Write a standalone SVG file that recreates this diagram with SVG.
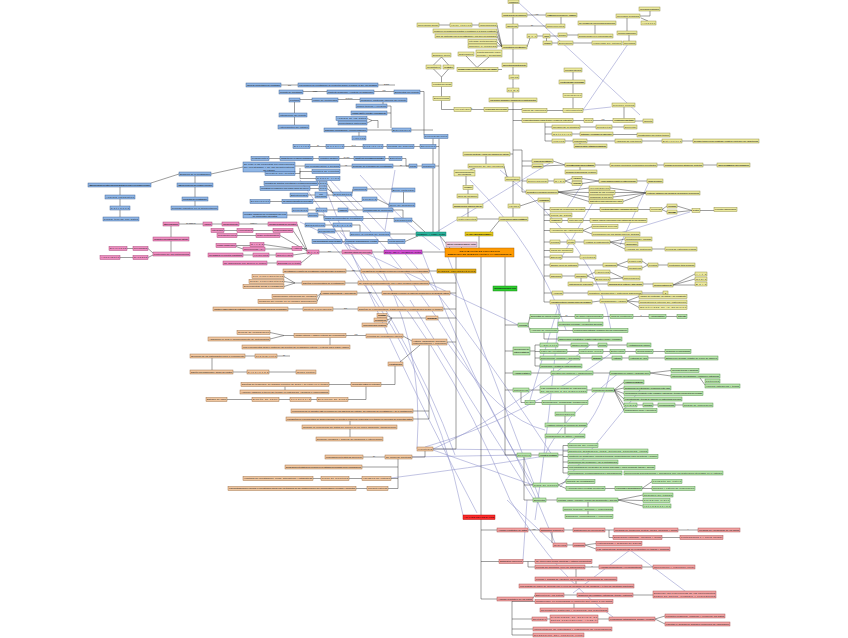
<svg xmlns="http://www.w3.org/2000/svg" width="848" height="638" viewBox="0 0 848 638">
<style>
.n rect{stroke-width:.45}
.n text{font-family:"Liberation Sans",Arial,sans-serif;font-size:2.4px;text-anchor:middle;fill:#111}
.b rect{fill:#8fb6e6;stroke:#3b5e92}
.y rect{fill:#ecea9e;stroke:#8c8740}
.o rect{fill:#f1c7a0;stroke:#9a6a42}
.g rect{fill:#b8e4ab;stroke:#4d8a42}
.r rect{fill:#f1a2a2;stroke:#a44c4c}
.p rect{fill:#ef8fc2;stroke:#a23d72}
.e{stroke:#3a3a3a;stroke-width:.5;fill:none}
.x{stroke:#8f93cc;stroke-width:.65;fill:none;opacity:.85}
.lw{font-family:"Liberation Sans",Arial,sans-serif;font-size:1.9px;text-anchor:middle;fill:#222}
</style>
<rect width="848" height="638" fill="#fff"/>
<g id="connectors">
<path class="x" d="M518,2L640,115 M583,110L628,44 M323,182Q380,330 477,513 M330,190Q440,290 537,500 M350,195Q430,270 552,455 M300,222Q400,270 518,325 M440,236L540,500 M422,252Q470,380 533,485 M430,236L550,163 M433,449Q500,450 568,450 M433,450Q490,470 533,485 M412,457L517,455 M391,478Q470,468 539,457 M470,180Q540,250 566,330 M500,170Q600,250 611,330 M320,230Q430,350 463,515 M410,300Q470,400 533,498 M447,342Q500,420 545,430 M560,300Q550,420 535,520 M590,345Q500,420 433,449 M613,352Q520,420 425,447 M620,372Q560,420 545,455 M527,500L523,560 M507,500L553,543 M537,500L555,543 M630,550L693,597 M630,550L573,593 M510,500Q560,580 613,617 M583,183L567,208 M620,233L690,212 M610,372Q600,420 568,444 M330,180L358,210 M360,175Q400,220 440,250 M395,170L385,230 M583,110L611,107 M300,180Q410,330 455,455 M340,232Q440,330 510,500 M372,252Q425,340 417,449 M640,390Q600,440 560,487 M560,300L530,400 M600,190L560,260 M650,180L620,245"/>
<path class="e" d="M281,85H298 M378,85H395 M303,91.5H327 M374,91.5H394 M420,91.5H424V134.5 M433,138.5V232 M439,138.5V232 M300,99.5H312 M338,99.5H360 M294.5,101.5V113 M294.5,117V125 M383,102V104 M387,106H391V128 M387,113H391 M367,118.5L372,120.5 M367,123L372,120.5H378V128 M367,130H392 M359,136V132 M411,130H433 M310,146.5H326 M344,146.5H363 M383,146.5H387 M414,146.5H420 M436,146.5H439 M269,158.5H280 M313,158.5H319 M339,158.5H354 M385,158.5H389 M402,158.5H406V166H409 M295,166H305 M340,166H352 M393,166H409 M417,166H422 M435,166H439 M243,167L211,174 M295,173.5H300V168 M312,171.5H300 M316,178.5H300V171 M318,183.5H319 M310,188.5H319 M327,183.5L333,193 M327,188.5L333,193 M308,195H315 M327,195H333 M352,193.5L353,189 M367,189H392 M403.5,192V203 M270,201.5H282 M313,201.5H362 M377,199L389,205 M308,210H316 M327,210H338 M348,210H363 M393,210H403V218 M287,215H308 M318,215H324V218.5 M363,218.5H394 M325,225H333 M352,225H360V232 M335,231H350 M390,234H416 M342,241.5H345 M378,241.5H388 M405,241.5L418,236 M412,220L425,232 M179,174L151,183 M195,176V183 M120,187V195 M120,199V206 M120,210V217 M195,187V197 M195,201V206"/>
<path class="e" d="M179,224H203 M212,224H222 M239,224H268 M297,224L307,250 M171,226V237 M171,241V252 M127,248.5H133 M148,248.5L153,253 M120,257.5H133 M148,257.5L153,255 M224,230.5H237 M253,230.5H273 M293,230.5L307,251 M237,235.5H256 M280,235.5L307,251 M236,245.5H250 M236,246.5L243,249 M264,244.5L292,248.5 M265,249H292 M302,248.5H307 M243,255H253 M269,255H276 M293,255L307,253 M267,263H277 M301,263L312,254 M319,252H342 M372,252H384 M422,252H445 M461.5,247V248 M440,236L450,248 M479,236V248"/>
<path class="e" d="M456,257V269 M456,273V449 M433,449H456 M346,271H361 M429,271H437 M284,276.5L295,283 M284,281.5L295,283 M284,286.5L295,283H302 M345,283H358 M429,283H456 M317,296.5L321,293 M317,301.5L321,293 M357,293H382 M450,293H456 M288,309H303 M333,309H358 M443,309H456 M387,315.5L392,318 M387,320L392,318 M387,325L392,318H426 M438,318H456 M270,332.5L284,335.5 M270,339L284,335.5H294 M346,335.5H366 M403,336L412,341 M447,342H456 M330,337.5V345 M245,356H255 M212,358V370 M233,372H247 M269,372H296 M277,356H290 M420,345L400,362 M395,366V384.5H381 M329,384.5H351 M285,386.5V390 M366,386.5V399.5H348 M227,399.5H252 M279,399.5H290 M311,399.5H317 M429,345V419 M413,411H429 M413,419H429 M350,421V425 M350,429V437 M425,451V457H412 M363,457H385 M398,459V488.5 M362,467H398 M313,478.5H321 M349,478.5H362 M391,478.5H398 M356,488.5H367 M388,488.5H398"/>
<path class="e" d="M481,257V515 M505,257V286 M505,291V455 M505,325H518 M528,325L530,316.5 M528,325L530,330.5 M560,316.5H575 M603,316.5H610 M633,316.5H649 M666,316.5H677 M589,318.5V322 M558,330.5H573 M544,332.5V339H558 M505,351H513 M530,351H535 M535,345V366 M535,345H540 M535,351.5H540 M535,358H540 M535,366H540 M558,345H571 M588,345H598 M607,345H627 M567,351.5H579 M603,351.5H610 M625,351.5H636 M653,351.5H665 M580,358H592 M602,358H612 M622,358H629 M648,358H665 M505,373H513 M531,373H551 M593,373H610 M650,373L671,370.5 M650,373L671,376 M700,378L705,385 M505,390H513 M529,390H540 M587,390H592 M614,390L624,382 M614,390L624,388 M614,390L624,393.5 M614,390L624,399 M614,390L624,405 M614,390L624,410.5 M637,405H643 M653,405H658 M675,405H683 M521,392V402.5H525 M535,402.5H542 M565,404.5V412 M565,416V423 M565,427V434 M505,455H517 M531,455H539 M558,455H563 M563,445.5V473 M563,445.5H568 M563,451H568 M563,456.5H568 M563,462H568 M563,467.5H568 M563,473H568 M524,457V500 M524,485H533 M524,500H533 M558,485L566,481.5 M558,485L566,488.5 M605,488.5H615 M642,488.5L652,481.5 M642,488.5H652 M546,500H557 M618,500L643,495 M618,500L643,500.5 M618,500L643,506 M588,502V507 M588,511V514.5"/>
<path class="e" d="M481,519V599 M481,530H497 M481,561.5H499 M481,599H497 M528,530H540 M564,530H573 M605,530H614 M678,530H698 M609,530V537.5H613 M662,537.5H680 M552,532V543 M567,545H573 M585,545L596,543.5 M585,545L596,549 M523,561.5H535 M528,561.5V567H535 M585,567H599 M642,567H653 M576,569V577 M576,581V584 M533,598L535,595 M564,595H577 M633,595H653 M512,601V635 M512,601.5H535 M512,619H532 M512,629H533 M512,635H533 M574,603.5V608 M547,619H550 M598,619H609 M655,619L665,616 M655,619L665,624"/>
<path class="e" d="M513,3.5V13 M513,17V24 M513,28V45 M513,49V63 M513,67V75 M513,79V88 M513,92V98 M513,102V217 M513,120.5H522 M510,154H513 M513,150H522V192 M522,161H532 M522,166H532 M522,181H527 M522,192H526 M499,221L490,232 M527,15H546 M518,26H546 M561,17V24 M439,25H450 M472,25H479 M497,25L502,47 M497,31L502,47 M497,36L502,47 M497,42L502,47 M497,46H502 M527,47L530,38 M537,36H543 M550,36H558 M546.5,38V41 M552,43H558 M567,35H578 M573,43H592 M595,34V25 M629,41V35 M627,31V18 M640,16H650V11 M641,18L648,21 M441.5,57L433.5,65 M441.5,57L448.5,65 M433.5,69L441.5,77 M448.5,69L441.5,77V82.5 M441.5,86.5V96.5 M441.5,100.5V109.5H454 M471,109.5H484 M508,109.5H522 M547,110.5H563 M466,56L477,67.5 M489,57L477,67.5 M498,69.5H502 M573,108.5V97.5 M573,93.5V84 M573,80V72 M573,120.5H584 M593,120.5H613 M624,118.5V107 M635,121H643 M545,122.5V141 M545,127H552 M545,134H552 M545,141H552 M580,127H596 M612,127H624 M572,134H580 M613,134.5H637 M565,141H573 M580,143V144 M587,141H615 M642,141H662 M682,141H693 M486,156V164 M504,166L507,177 M466,176V185.5 M475,168L470,170 M468,189.5V194 M468,198V204 M468,208V217 M477,219H499 M520,206L538,200 M543,166L565,165 M553,161L565,165 M595,165H610 M657,165H664 M703,165H717 M580,167V170 M548,181H554 M565,181L572,178.5 M565,181L572,183.5 M582,178.5L599,181 M582,183.5L599,181 M637,181H647 M558,192L589,188 M558,192L589,192.5 M558,192L589,197 M558,192L589,201.5 M610,188L646,193 M615,192.5H646 M613,197L646,193 M623,201.5L646,193 M544,202V302 M544,209.5H550 M544,215H550 M544,220.5H550 M544,230.5H550 M544,242H550 M544,250.5H550 M544,257H550 M544,265H550 M544,276H550 M544,293H552 M544,302H550 M585,209.5H600 M638,209.5H650 M662,209.5L667,206 M662,209.5L667,212 M677,206L692,210.5 M677,212L692,210.5 M700,210.5H714 M562,220.5H568 M583,220.5H590 M583,230.5L592,226.5 M583,230.5L592,234 M560,242H567 M575,242H584 M610,242L625,239 M610,242L625,244 M610,242L625,249 M652,249H665 M562,257H580 M578,265H603 M617,265L628,261 M617,265L628,268 M642,261L648,265 M642,268L648,265 M658,265H668 M562,276H575 M587,276L595,272 M587,276L595,279 M610,272L623,278 M610,279L623,278 M673,285L695,274 M673,285L695,279 M673,285H695 M581,278V282 M593,284H608 M643,284H653 M563,293H588 M642,293H663 M592,302L600,301 M627,301L639,296.5 M627,301L639,302 M627,301L639,307.5"/>
<text class="lw" x="289.5" y="85.6">son</text><text class="lw" x="386.5" y="84.6">según</text><text class="lw" x="315" y="92.1">como</text><text class="lw" x="384" y="91.1">con</text><text class="lw" x="349" y="99.1">contiene</text><text class="lw" x="318" y="146.1">de</text><text class="lw" x="353.5" y="146.1">es la</text><text class="lw" x="346.5" y="158.1">se usa</text><text class="lw" x="346" y="165.6">es</text><text class="lw" x="401" y="165.6">de</text><text class="lw" x="191" y="223.6">se basa en</text><text class="lw" x="253.5" y="223.6">como el</text><text class="lw" x="329.5" y="251.6">son</text><text class="lw" x="353.5" y="270.6">que</text><text class="lw" x="370" y="292.6">son</text><text class="lw" x="345.5" y="308.6">son</text><text class="lw" x="356" y="335.1">con</text><text class="lw" x="374" y="456.6">se</text><text class="lw" x="566.5" y="316.1">se</text><text class="lw" x="641" y="316.1">o</text><text class="lw" x="534" y="529.6">con</text><text class="lw" x="688" y="529.6">y</text><text class="lw" x="592" y="566.6">o</text><text class="lw" x="536.5" y="14.6">y su</text><text class="lw" x="532" y="25.6">de</text><text class="lw" x="603" y="120.1">con</text><text class="lw" x="468" y="109.1">a partir de</text><text class="lw" x="577" y="372.6">para</text><text class="lw" x="284" y="355.6">de</text><text class="lw" x="594" y="488.1">y</text>
</g>
<g id="n_main" class="n"><rect x="445" y="248" width="69" height="9" fill="#ff9a00" stroke="#a05a00"/><text x="479.5" y="251.9" textLength="40" font-weight="bold">REALIZACIÓN DE PROYECTOS</text><text x="479.5" y="255.4" textLength="64" font-weight="bold">SEMINARIO DE INVESTIGACIÓN II: LA UNIVERSIDAD</text></g>
<g id="n_pg" class="n"><rect x="446" y="242" width="31" height="5" fill="#e9c9dc" stroke="#8a6a7a"/><text x="461.5" y="245.3" textLength="29">SEMINARIO DE INVESTIGACIÓN</text></g>
<g id="n_teal" class="n"><rect x="416" y="232" width="30" height="4" fill="#29b39c" stroke="#157060"/><text x="431" y="234.85" textLength="28">MUESTRA Y POBLACIÓN</text></g>
<g id="n_gy" class="n"><rect x="465" y="232" width="28" height="4" fill="#e8cc1c" stroke="#8a7410"/><text x="479" y="234.85" textLength="26">PLANTEAMIENTO DEL PROBLEMA</text></g>
<g id="n_mag" class="n"><rect x="384" y="250" width="38" height="4" fill="#d34fd3" stroke="#7a1f7a"/><text x="403" y="252.85" textLength="36">ÉTICA EN LA INVESTIGACIÓN</text></g>
<g id="n_go" class="n"><rect x="437" y="269" width="39" height="4" fill="#e2ab14" stroke="#7d5e08"/><text x="456.5" y="271.85" textLength="37">DISEÑO METODOLÓGICO</text></g>
<g id="n_gr" class="n"><rect x="493" y="286" width="24" height="5" fill="#2ecc2e" stroke="#178017"/><text x="505" y="289.3" textLength="22">RECOLECCIÓN DE DATOS</text></g>
<g id="n_rr" class="n"><rect x="463" y="515" width="32" height="4.5" fill="#ff2a2a" stroke="#a00000"/><text x="479" y="518.1" textLength="30">ANÁLISIS DE LOS DATOS</text></g>
<g id="b1" class="n b"><rect x="246" y="83" width="35" height="4"/><text x="263.5" y="85.85" textLength="33">Tipos de presentación de resultados</text></g>
<g id="b2" class="n b"><rect x="298" y="83" width="80" height="4"/><text x="338" y="85.85" textLength="78">Los informes de investigación se presentan según el público al que van dirigidos</text></g>
<g id="b3" class="n b"><rect x="279" y="90" width="24" height="4"/><text x="291" y="92.85" textLength="22">Reporte de resultados</text></g>
<g id="b4" class="n b"><rect x="327" y="90" width="47" height="4"/><text x="350.5" y="92.85" textLength="45">Contexto académico y contexto no académico</text></g>
<g id="b5" class="n b"><rect x="394" y="90" width="26" height="4"/><text x="407" y="92.85" textLength="24">Elementos del reporte</text></g>
<g id="b6" class="n b"><rect x="289" y="98" width="11" height="4"/><text x="294.5" y="100.85" textLength="9">Portada</text></g>
<g id="b7" class="n b"><rect x="312" y="98" width="26" height="4"/><text x="325" y="100.85" textLength="24">Índice de contenidos</text></g>
<g id="b8" class="n b"><rect x="360" y="98" width="47" height="4"/><text x="383.5" y="100.85" textLength="45">Resumen: contenido esencial del reporte</text></g>
<g id="b9" class="n b"><rect x="279" y="113" width="28" height="4"/><text x="293" y="115.85" textLength="26">Introducción del reporte</text></g>
<g id="b10" class="n b"><rect x="278" y="125" width="31" height="4"/><text x="293.5" y="127.85" textLength="29">Antecedentes del estudio</text></g>
<g id="b11" class="n b"><rect x="356" y="104" width="31" height="4"/><text x="371.5" y="106.85" textLength="29">Marco teórico y revisión</text></g>
<g id="b12" class="n b"><rect x="351" y="111" width="36" height="4"/><text x="369" y="113.85" textLength="34">Método: diseño, muestra y procedimiento</text></g>
<g id="b13" class="n b"><rect x="336" y="116.5" width="31" height="4"/><text x="351.5" y="119.35" textLength="29">Análisis de los datos</text></g>
<g id="b14" class="n b"><rect x="338" y="121" width="29" height="4"/><text x="352.5" y="123.85" textLength="27">Resultados obtenidos</text></g>
<g id="b15" class="n b"><rect x="324" y="128" width="43" height="4"/><text x="345.5" y="130.85" textLength="41">Discusión: conclusiones y recomendaciones</text></g>
<g id="b16" class="n b"><rect x="352" y="136" width="14" height="4"/><text x="359" y="138.85" textLength="12">Anexos</text></g>
<g id="b17" class="n b"><rect x="392" y="128" width="19" height="4"/><text x="401.5" y="130.85" textLength="17">Bibliografía</text></g>
<g id="b18" class="n b"><rect x="293" y="144.5" width="17" height="4"/><text x="301.5" y="147.35" textLength="15">Sujetos</text></g>
<g id="b19" class="n b"><rect x="326" y="144.5" width="18" height="4"/><text x="335" y="147.35" textLength="16">Muestra</text></g>
<g id="b20" class="n b"><rect x="363" y="144.5" width="20" height="4"/><text x="373" y="147.35" textLength="18">Población</text></g>
<g id="b21" class="n b"><rect x="387" y="144.5" width="27" height="4"/><text x="400.5" y="147.35" textLength="25">Unidad de análisis</text></g>
<g id="b22" class="n b"><rect x="420" y="144.5" width="16" height="4"/><text x="428" y="147.35" textLength="14">Selección</text></g>
<g id="b23" class="n b"><rect x="424" y="134.5" width="24" height="4"/><text x="436" y="137.35" textLength="22">Procedimiento</text></g>
<g id="b24" class="n b"><rect x="251" y="156.5" width="18" height="4"/><text x="260" y="159.35" textLength="16">Probabilística</text></g>
<g id="b25" class="n b"><rect x="280" y="156.5" width="33" height="4"/><text x="296.5" y="159.35" textLength="31">Todos tienen la misma posibilidad</text></g>
<g id="b26" class="n b"><rect x="319" y="156.5" width="20" height="4"/><text x="329" y="159.35" textLength="18">Muestreo aleatorio</text></g>
<g id="b27" class="n b"><rect x="354" y="156.5" width="31" height="4"/><text x="369.5" y="159.35" textLength="29">Tamaño de la muestra representativo</text></g>
<g id="b28" class="n b"><rect x="389" y="156.5" width="13" height="4"/><text x="395.5" y="159.35" textLength="11">Estratos</text></g>
<g id="b29" class="n b"><rect x="243" y="162" width="52" height="10"/><text x="269" y="165" textLength="50">Se elige a los elementos por conveniencia</text><text x="269" y="167.8" textLength="50">del investigador y de las características</text><text x="269" y="170.6">del estudio</text></g>
<g id="b30" class="n b"><rect x="305" y="164" width="35" height="4"/><text x="322.5" y="166.85" textLength="33">No probabilística o dirigida</text></g>
<g id="b31" class="n b"><rect x="352" y="164" width="41" height="4"/><text x="372.5" y="166.85" textLength="39">Depende de la decisión del investigador</text></g>
<g id="b32" class="n b"><rect x="409" y="164" width="8" height="4"/><text x="413" y="166.85" textLength="6">Tipos</text></g>
<g id="b33" class="n b"><rect x="422" y="164" width="13" height="4"/><text x="428.5" y="166.85" textLength="11">Muestreo</text></g>
<g id="b34" class="n b"><rect x="265" y="171.5" width="30" height="4"/><text x="280" y="174.35" textLength="28">Muestra por cuotas</text></g>
<g id="b35" class="n b"><rect x="312" y="169.5" width="28" height="4"/><text x="326" y="172.35" textLength="26">Muestra de expertos</text></g>
<g id="b36" class="n b"><rect x="316" y="176.5" width="24" height="4"/><text x="328" y="179.35" textLength="22">Casos tipo</text></g>
<g id="b37" class="n b"><rect x="264" y="181.5" width="54" height="4"/><text x="291" y="184.35" textLength="52">Muestra de sujetos voluntarios o autoseleccionados</text></g>
<g id="b38" class="n b"><rect x="260" y="186.5" width="50" height="4"/><text x="285" y="189.35" textLength="48">Muestras en cadena o por redes (bola de nieve)</text></g>
<g id="b39" class="n b"><rect x="319" y="181.5" width="8" height="4"/><text x="323" y="184.35" textLength="6">Tipo</text></g>
<g id="b40" class="n b"><rect x="319" y="186.5" width="8" height="4"/><text x="323" y="189.35" textLength="6">Tipo</text></g>
<g id="b41" class="n b"><rect x="290" y="193" width="18" height="4"/><text x="299" y="195.85" textLength="16">Estratificada</text></g>
<g id="b42" class="n b"><rect x="315" y="192" width="12" height="6"/><text x="321" y="194.6">Por</text><text x="321" y="197.4" textLength="10">racimos</text></g>
<g id="b43" class="n b"><rect x="333" y="192" width="19" height="4"/><text x="342.5" y="194.85" textLength="17">Sistemática</text></g>
<g id="b44" class="n b"><rect x="353" y="187" width="14" height="4"/><text x="360" y="189.85" textLength="12">Inferencia</text></g>
<g id="b45" class="n b"><rect x="392" y="188" width="23" height="4"/><text x="403.5" y="190.85" textLength="21">Error estándar</text></g>
<g id="b46" class="n b"><rect x="250" y="199.5" width="20" height="4"/><text x="260" y="202.35" textLength="18">Descripción</text></g>
<g id="b47" class="n b"><rect x="282" y="199.5" width="31" height="4"/><text x="297.5" y="202.35" textLength="29">Se calcula el tamaño de la muestra</text></g>
<g id="b48" class="n b"><rect x="362" y="197" width="15" height="4"/><text x="369.5" y="199.85" textLength="13">Fórmula</text></g>
<g id="b49" class="n b"><rect x="389" y="203" width="26" height="4"/><text x="402" y="205.85" textLength="24">Nivel de confianza</text></g>
<g id="b50" class="n b"><rect x="292" y="208" width="16" height="4"/><text x="300" y="210.85" textLength="14">Precisión</text></g>
<g id="b51" class="n b"><rect x="316" y="208" width="11" height="4"/><text x="321.5" y="210.85" textLength="9">Error</text></g>
<g id="b52" class="n b"><rect x="338" y="208" width="10" height="4"/><text x="343" y="210.85" textLength="8">Varianza</text></g>
<g id="b53" class="n b"><rect x="363" y="208" width="30" height="4"/><text x="378" y="210.85" textLength="28">Probabilidad de ocurrencia</text></g>
<g id="b54" class="n b"><rect x="243" y="212" width="44" height="6"/><text x="265" y="214.6" textLength="42">Muestra: subgrupo de la población del cual</text><text x="265" y="217.4">se recolectan los datos</text></g>
<g id="b55" class="n b"><rect x="308" y="213" width="10" height="4"/><text x="313" y="215.85" textLength="8">Censo</text></g>
<g id="b56" class="n b"><rect x="324" y="216.5" width="39" height="4"/><text x="343.5" y="219.35" textLength="37">Todos los elementos de la población</text></g>
<g id="b57" class="n b"><rect x="394" y="218" width="18" height="4"/><text x="403" y="220.85" textLength="16">Parámetros</text></g>
<g id="b58" class="n b"><rect x="305" y="223" width="20" height="4"/><text x="315" y="225.85" textLength="18">Estadísticos</text></g>
<g id="b59" class="n b"><rect x="333" y="223" width="19" height="4"/><text x="342.5" y="225.85" textLength="17">Valores</text></g>
<g id="b60" class="n b"><rect x="318" y="229" width="17" height="4"/><text x="326.5" y="231.85" textLength="15">Delimitación</text></g>
<g id="b61" class="n b"><rect x="350" y="232" width="40" height="4"/><text x="370" y="234.85" textLength="38">Definir la unidad de análisis</text></g>
<g id="b62" class="n b"><rect x="312" y="239.5" width="30" height="4"/><text x="327" y="242.35" textLength="28">Los elementos que serán medidos</text></g>
<g id="b63" class="n b"><rect x="345" y="239.5" width="33" height="4"/><text x="361.5" y="242.35" textLength="31">Personas, organizaciones, eventos</text></g>
<g id="b64" class="n b"><rect x="388" y="239.5" width="17" height="4"/><text x="396.5" y="242.35" textLength="15">Planteamiento</text></g>
<g id="b68" class="n b"><rect x="179" y="172" width="32" height="4"/><text x="195" y="174.85" textLength="30">Enfoques de la investigación</text></g>
<g id="b69" class="n b"><rect x="88" y="183" width="63" height="4"/><text x="119.5" y="185.85" textLength="61">Utiliza la recolección de datos para probar hipótesis con base en la medición numérica</text></g>
<g id="b70" class="n b"><rect x="177" y="183" width="36" height="4"/><text x="195" y="185.85" textLength="34">Utiliza la recolección sin medición numérica</text></g>
<g id="b71" class="n b"><rect x="105" y="195" width="30" height="4"/><text x="120" y="197.85" textLength="28">Análisis estadístico</text></g>
<g id="b72" class="n b"><rect x="182" y="197" width="26" height="4"/><text x="195" y="199.85" textLength="24">Preguntas de investigación</text></g>
<g id="b73" class="n b"><rect x="110" y="206" width="20" height="4"/><text x="120" y="208.85" textLength="18">Patrones</text></g>
<g id="b74" class="n b"><rect x="171" y="206" width="47" height="4"/><text x="194.5" y="208.85" textLength="45">Proceso inductivo en la interpretación</text></g>
<g id="b75" class="n b"><rect x="103" y="217" width="36" height="4"/><text x="121" y="219.85" textLength="34">Probar teorías con datos</text></g>
<g id="p1" class="n p"><rect x="163" y="222" width="16" height="4"/><text x="171" y="224.85" textLength="14">Ética profesional</text></g>
<g id="p2" class="n p"><rect x="203" y="222" width="9" height="4"/><text x="207.5" y="224.85" textLength="7">Valores</text></g>
<g id="p3" class="n p"><rect x="222" y="222" width="17" height="4"/><text x="230.5" y="224.85" textLength="15">Consentimiento</text></g>
<g id="p4" class="n p"><rect x="268" y="222" width="29" height="4"/><text x="282.5" y="224.85" textLength="27">Confidencialidad de los datos</text></g>
<g id="p5" class="n p"><rect x="153" y="237" width="36" height="4"/><text x="171" y="239.85" textLength="34">Respeto a los participantes del estudio</text></g>
<g id="p6" class="n p"><rect x="211" y="228.5" width="13" height="4"/><text x="217.5" y="231.35" textLength="11">Integridad</text></g>
<g id="p7" class="n p"><rect x="237" y="228.5" width="16" height="4"/><text x="245" y="231.35" textLength="14">Honestidad</text></g>
<g id="p8" class="n p"><rect x="273" y="228.5" width="20" height="4"/><text x="283" y="231.35" textLength="18">Responsabilidad</text></g>
<g id="p9" class="n p"><rect x="217" y="233.5" width="20" height="4"/><text x="227" y="236.35" textLength="18">Transparencia</text></g>
<g id="p10" class="n p"><rect x="256" y="233.5" width="24" height="4"/><text x="268" y="236.35" textLength="22">Rigor metodológico</text></g>
<g id="p11" class="n p"><rect x="216" y="243.5" width="20" height="4"/><text x="226" y="246.35" textLength="18">Plagio académico</text></g>
<g id="p12" class="n p"><rect x="250" y="242.5" width="14" height="4"/><text x="257" y="245.35" textLength="12">Citas</text></g>
<g id="p13" class="n p"><rect x="243" y="247" width="22" height="4"/><text x="254" y="249.85" textLength="20">Referencias APA</text></g>
<g id="p14" class="n p"><rect x="292" y="246.5" width="10" height="4"/><text x="297" y="249.35" textLength="8">Autoría</text></g>
<g id="p15" class="n p"><rect x="109" y="246.5" width="18" height="4"/><text x="118" y="249.35" textLength="16">Derechos</text></g>
<g id="p16" class="n p"><rect x="133" y="246.5" width="15" height="4"/><text x="140.5" y="249.35" textLength="13">Privacidad</text></g>
<g id="p17" class="n p"><rect x="153" y="252" width="37" height="4"/><text x="171.5" y="254.85" textLength="35">Protección de los participantes</text></g>
<g id="p18" class="n p"><rect x="100" y="255.5" width="20" height="4"/><text x="110" y="258.35" textLength="18">Anonimato</text></g>
<g id="p19" class="n p"><rect x="133" y="255.5" width="15" height="4"/><text x="140.5" y="258.35" textLength="13">Riesgos</text></g>
<g id="p20" class="n p"><rect x="208" y="253" width="35" height="4"/><text x="225.5" y="255.85" textLength="33">No falsificar ni inventar resultados</text></g>
<g id="p21" class="n p"><rect x="253" y="253" width="16" height="4"/><text x="261" y="255.85" textLength="14">Veracidad</text></g>
<g id="p22" class="n p"><rect x="276" y="253" width="17" height="4"/><text x="284.5" y="255.85" textLength="15">Objetividad</text></g>
<g id="p23" class="n p"><rect x="307" y="250" width="12" height="4"/><text x="313" y="252.85" textLength="10">Ética</text></g>
<g id="p24" class="n p"><rect x="223" y="261" width="44" height="4"/><text x="245" y="263.85" textLength="42">No discriminar por género ni origen</text></g>
<g id="p25" class="n p"><rect x="277" y="261" width="24" height="4"/><text x="289" y="263.85" textLength="22">Equidad en el trato</text></g>
<g id="p26" class="n p"><rect x="342" y="250" width="30" height="4"/><text x="357" y="252.85" textLength="28">Aspectos éticos del proyecto</text></g>
<g id="o1" class="n o"><rect x="283" y="269" width="63" height="4"/><text x="314.5" y="271.85" textLength="61">Se establece el diseño de investigación más adecuado al problema</text></g>
<g id="o2" class="n o"><rect x="361" y="269" width="68" height="4"/><text x="395" y="271.85" textLength="66">Los diseños de investigación pueden ser experimentales o no experimentales</text></g>
<g id="o3" class="n o"><rect x="252" y="274.5" width="32" height="4"/><text x="268" y="277.35" textLength="30">Pre experimentales</text></g>
<g id="o4" class="n o"><rect x="249" y="279.5" width="35" height="4"/><text x="266.5" y="282.35" textLength="33">Cuasi experimentales</text></g>
<g id="o5" class="n o"><rect x="243" y="284.5" width="41" height="4"/><text x="263.5" y="287.35" textLength="39">Experimentos puros o verdaderos</text></g>
<g id="o6" class="n o"><rect x="302" y="281" width="43" height="4"/><text x="323.5" y="283.85" textLength="41">Diseños experimentales de investigación</text></g>
<g id="o7" class="n o"><rect x="358" y="281" width="71" height="4"/><text x="393.5" y="283.85" textLength="69">Se manipula deliberadamente una o más variables independientes</text></g>
<g id="o8" class="n o"><rect x="321" y="291" width="36" height="4"/><text x="339" y="293.85" textLength="34">Variable independiente y dependiente</text></g>
<g id="o9" class="n o"><rect x="382" y="291" width="68" height="4"/><text x="416" y="293.85" textLength="66">Son los estudios en los que se observan fenómenos en su ambiente natural</text></g>
<g id="o10" class="n o"><rect x="272" y="294.5" width="45" height="4"/><text x="294.5" y="297.35" textLength="43">Manipulación intencional de variables</text></g>
<g id="o11" class="n o"><rect x="258" y="299.5" width="59" height="4"/><text x="287.5" y="302.35" textLength="57">Medición del efecto en la variable dependiente</text></g>
<g id="o12" class="n o"><rect x="213" y="307" width="75" height="4"/><text x="250.5" y="309.85" textLength="73">Control o validez interna de la situación experimental mediante grupos de comparación</text></g>
<g id="o13" class="n o"><rect x="303" y="307" width="30" height="4"/><text x="318" y="309.85" textLength="28">Control experimental</text></g>
<g id="o14" class="n o"><rect x="358" y="307" width="85" height="4"/><text x="400.5" y="309.85" textLength="83">Diseños no experimentales: transeccionales o longitudinales según el tiempo</text></g>
<g id="o15" class="n o"><rect x="377" y="313.5" width="10" height="4"/><text x="382" y="316.35" textLength="8">Exploratorios</text></g>
<g id="o16" class="n o"><rect x="374" y="318" width="13" height="4"/><text x="380.5" y="320.85" textLength="11">Descriptivos</text></g>
<g id="o17" class="n o"><rect x="362" y="323" width="25" height="4"/><text x="374.5" y="325.85" textLength="23">Correlacionales-causales</text></g>
<g id="o18" class="n o"><rect x="426" y="316" width="12" height="4"/><text x="432" y="318.85" textLength="10">Transeccionales</text></g>
<g id="o19" class="n o"><rect x="237" y="330.5" width="33" height="4"/><text x="253.5" y="333.35" textLength="31">Grupos de comparación</text></g>
<g id="o20" class="n o"><rect x="208" y="337" width="62" height="4"/><text x="239" y="339.85" textLength="60">Asignación al azar o emparejamiento de participantes</text></g>
<g id="o21" class="n o"><rect x="294" y="333.5" width="52" height="4"/><text x="320" y="336.35" textLength="50">Validez interna y validez externa del experimento</text></g>
<g id="o22" class="n o"><rect x="366" y="334" width="37" height="4"/><text x="384.5" y="336.85" textLength="35">Fuentes de invalidación interna</text></g>
<g id="o23" class="n o"><rect x="412" y="339" width="35" height="6"/><text x="429.5" y="341.6" textLength="33">Historia, maduración, selección,</text><text x="429.5" y="344.4" textLength="33">instrumentación y regresión</text></g>
<g id="o24" class="n o"><rect x="242" y="345" width="108" height="4"/><text x="296" y="347.85" textLength="106">Los experimentos deben controlar las fuentes de invalidación interna y externa para lograr validez</text></g>
<g id="o25" class="n o"><rect x="190" y="354" width="55" height="4"/><text x="217.5" y="356.85" textLength="53">Selección de los participantes para el experimento</text></g>
<g id="o26" class="n o"><rect x="255" y="354" width="22" height="4"/><text x="266" y="356.85" textLength="20">Tratamiento</text></g>
<g id="o27" class="n o"><rect x="190" y="370" width="43" height="4"/><text x="211.5" y="372.85" textLength="41">Diseño con posprueba y grupo de control</text></g>
<g id="o28" class="n o"><rect x="247" y="370" width="22" height="4"/><text x="258" y="372.85" textLength="20">Preprueba</text></g>
<g id="o29" class="n o"><rect x="296" y="370" width="20" height="4"/><text x="306" y="372.85" textLength="18">Grupo control</text></g>
<g id="o30" class="n o"><rect x="388" y="362" width="15" height="4"/><text x="395.5" y="364.85" textLength="13">Longitudinales</text></g>
<g id="o31" class="n o"><rect x="241" y="382.5" width="88" height="4"/><text x="285" y="385.35" textLength="86">Diseños de tendencia, de análisis evolutivo de grupo y de panel en el tiempo</text></g>
<g id="o32" class="n o"><rect x="351" y="382.5" width="30" height="4"/><text x="366" y="385.35" textLength="28">Recolectan datos en el tiempo</text></g>
<g id="o33" class="n o"><rect x="240" y="390" width="89" height="4"/><text x="284.5" y="392.85" textLength="87">Analizan cambios a través del tiempo en categorías, variables o comunidades</text></g>
<g id="o34" class="n o"><rect x="206" y="397.5" width="21" height="4"/><text x="216.5" y="400.35" textLength="19">Estudio de caso</text></g>
<g id="o35" class="n o"><rect x="252" y="397.5" width="27" height="4"/><text x="265.5" y="400.35" textLength="25">Diseño de panel</text></g>
<g id="o36" class="n o"><rect x="290" y="397.5" width="21" height="4"/><text x="300.5" y="400.35" textLength="19">Tendencia</text></g>
<g id="o37" class="n o"><rect x="317" y="397.5" width="31" height="4"/><text x="332.5" y="400.35" textLength="29">Evolución de grupo</text></g>
<g id="o38" class="n o"><rect x="291" y="409" width="122" height="4"/><text x="352" y="411.85" textLength="120">La selección de la muestra está en función de los objetivos del estudio, del esquema de investigación y de la contribución</text></g>
<g id="o39" class="n o"><rect x="286" y="417" width="127" height="4"/><text x="349.5" y="419.85" textLength="125">Los diseños no experimentales se dividen tomando en cuenta el número de momentos en el tiempo en los cuales se recolectan datos</text></g>
<g id="o40" class="n o"><rect x="302" y="425" width="95" height="4"/><text x="349.5" y="427.85" textLength="93">Cuando la recolección de datos se realiza en un único momento: transeccional</text></g>
<g id="o41" class="n o"><rect x="316" y="437" width="67" height="4"/><text x="349.5" y="439.85" textLength="65">Describir variables y analizar su incidencia e interrelación</text></g>
<g id="o42" class="n o"><rect x="417" y="447" width="16" height="4"/><text x="425" y="449.85" textLength="14">Hipótesis</text></g>
<g id="o43" class="n o"><rect x="325" y="455" width="38" height="4"/><text x="344" y="457.85" textLength="36">Proposiciones tentativas acerca de</text></g>
<g id="o44" class="n o"><rect x="385" y="455" width="27" height="4"/><text x="398.5" y="457.85" textLength="25">Se formulan hipótesis</text></g>
<g id="o45" class="n o"><rect x="285" y="465" width="77" height="4"/><text x="323.5" y="467.85" textLength="75">Explicaciones tentativas del fenómeno investigado formuladas como proposiciones</text></g>
<g id="o46" class="n o"><rect x="243" y="476.5" width="70" height="4"/><text x="278" y="479.35" textLength="68">Hipótesis de investigación, nulas, alternativas y estadísticas</text></g>
<g id="o47" class="n o"><rect x="321" y="476.5" width="28" height="4"/><text x="335" y="479.35" textLength="26">Tipos de hipótesis</text></g>
<g id="o48" class="n o"><rect x="362" y="476.5" width="29" height="4"/><text x="376.5" y="479.35" textLength="27">Variables de estudio</text></g>
<g id="o49" class="n o"><rect x="228" y="486.5" width="128" height="4"/><text x="292" y="489.35" textLength="126">Las hipótesis deben referirse a una situación social real; los términos de las variables deben ser comprensibles, precisos y concretos</text></g>
<g id="o50" class="n o"><rect x="367" y="486.5" width="21" height="4"/><text x="377.5" y="489.35" textLength="19">Características</text></g>
<g id="y1" class="n y"><rect x="508" y="0" width="11" height="3.5"/><text x="513.5" y="2.6" textLength="9">Problema</text></g>
<g id="y2" class="n y"><rect x="502" y="13" width="25" height="4"/><text x="514.5" y="15.85" textLength="23">Planteamiento del problema</text></g>
<g id="y3" class="n y"><rect x="546" y="13" width="31" height="4"/><text x="561.5" y="15.85" textLength="29">Justificación del problema y viabilidad</text></g>
<g id="y4" class="n y"><rect x="506" y="24" width="12" height="4"/><text x="512" y="26.85" textLength="10">Objetivos</text></g>
<g id="y5" class="n y"><rect x="546" y="24" width="19" height="4"/><text x="555.5" y="26.85" textLength="17">Conveniencia</text></g>
<g id="y6" class="n y"><rect x="417" y="23" width="22" height="4"/><text x="428" y="25.85" textLength="20">Relevancia social</text></g>
<g id="y7" class="n y"><rect x="450" y="23" width="22" height="4"/><text x="461" y="25.85" textLength="20">Valor teórico</text></g>
<g id="y8" class="n y"><rect x="479" y="23" width="18" height="4"/><text x="488" y="25.85" textLength="16">Implicaciones</text></g>
<g id="y9" class="n y"><rect x="433" y="29" width="64" height="4"/><text x="465" y="31.85" textLength="62">Resolver un problema práctico o contribuir a la teoría existente</text></g>
<g id="y10" class="n y"><rect x="435" y="34" width="62" height="4"/><text x="466" y="36.85" textLength="60">Qué se pretende con la investigación y por qué es necesaria</text></g>
<g id="y11" class="n y"><rect x="468" y="39.5" width="29" height="4"/><text x="482.5" y="42.35" textLength="27">Utilidad metodológica</text></g>
<g id="y12" class="n y"><rect x="468" y="44" width="29" height="4"/><text x="482.5" y="46.85" textLength="27">Conocer el problema</text></g>
<g id="y13" class="n y"><rect x="502" y="45" width="25" height="4"/><text x="514.5" y="47.85" textLength="23">Preguntas de investigación</text></g>
<g id="y14" class="n y"><rect x="527" y="34" width="10" height="4"/><text x="532" y="36.85" textLength="8">Qué</text></g>
<g id="y15" class="n y"><rect x="543" y="34" width="7" height="4"/><text x="546.5" y="36.85" textLength="5">Cómo</text></g>
<g id="y16" class="n y"><rect x="558" y="33" width="9" height="4"/><text x="562.5" y="35.85" textLength="7">Dónde</text></g>
<g id="y17" class="n y"><rect x="543" y="41" width="9" height="4"/><text x="547.5" y="43.85" textLength="7">Cuándo</text></g>
<g id="y18" class="n y"><rect x="558" y="41" width="15" height="4"/><text x="565.5" y="43.85" textLength="13">Evaluación</text></g>
<g id="y19" class="n y"><rect x="578" y="34" width="35" height="4"/><text x="595.5" y="36.85" textLength="33">Deficiencias en el conocimiento</text></g>
<g id="y20" class="n y"><rect x="578" y="21" width="38" height="4"/><text x="597" y="23.85" textLength="36">Se consideran los recursos financieros</text></g>
<g id="y21" class="n y"><rect x="592" y="41" width="30" height="4"/><text x="607" y="43.85" textLength="28">Viabilidad del estudio</text></g>
<g id="y22" class="n y"><rect x="623" y="41" width="13" height="4"/><text x="629.5" y="43.85" textLength="11">Recursos</text></g>
<g id="y23" class="n y"><rect x="616" y="14" width="24" height="4"/><text x="628" y="16.85" textLength="22">Recursos humanos</text></g>
<g id="y24" class="n y"><rect x="617" y="31" width="20" height="4"/><text x="627" y="33.85" textLength="18">Tiempo disponible</text></g>
<g id="y25" class="n y"><rect x="639" y="7" width="21" height="4"/><text x="649.5" y="9.85" textLength="19">Recursos materiales</text></g>
<g id="y26" class="n y"><rect x="641" y="21" width="15" height="4"/><text x="648.5" y="23.85" textLength="13">Alcance</text></g>
<g id="y27" class="n y"><rect x="432" y="53" width="19" height="4"/><text x="441.5" y="55.85" textLength="17">Enfoque mixto</text></g>
<g id="y28" class="n y"><rect x="426" y="65" width="15" height="4"/><text x="433.5" y="67.85" textLength="13">Cuantitativo</text></g>
<g id="y29" class="n y"><rect x="443" y="65" width="11" height="4"/><text x="448.5" y="67.85" textLength="9">Cualitativo</text></g>
<g id="y30" class="n y"><rect x="458" y="52" width="16" height="4"/><text x="466" y="54.85" textLength="14">Sistemático</text></g>
<g id="y31" class="n y"><rect x="476" y="50" width="26" height="7"/><text x="489" y="53.1" textLength="24">Planteamiento claro,</text><text x="489" y="56" textLength="24">preciso y delimitado</text></g>
<g id="y32" class="n y"><rect x="457" y="67.5" width="41" height="4"/><text x="477.5" y="70.35" textLength="39">El problema debe expresar una relación entre variables</text></g>
<g id="y33" class="n y"><rect x="502" y="63" width="25" height="4"/><text x="514.5" y="65.85" textLength="23">Elementos del planteamiento</text></g>
<g id="y34" class="n y"><rect x="509" y="75" width="10" height="4"/><text x="514" y="77.85" textLength="8">Ideas</text></g>
<g id="y35" class="n y"><rect x="432" y="82.5" width="20" height="4"/><text x="442" y="85.35" textLength="18">Fuentes de ideas</text></g>
<g id="y36" class="n y"><rect x="433" y="96.5" width="17" height="4"/><text x="441.5" y="99.35" textLength="15">Experiencias</text></g>
<g id="y37" class="n y"><rect x="507" y="88" width="12" height="4"/><text x="513" y="90.85" textLength="10">Tema</text></g>
<g id="y38" class="n y"><rect x="489" y="98" width="48" height="4"/><text x="513" y="100.85" textLength="46">Las ideas se desarrollan y transforman en planteamientos</text></g>
<g id="y39" class="n y"><rect x="454" y="107.5" width="17" height="4"/><text x="462.5" y="110.35" textLength="15">Investigar</text></g>
<g id="y40" class="n y"><rect x="484" y="107.5" width="24" height="4"/><text x="496" y="110.35" textLength="22">La idea debe ser novedosa</text></g>
<g id="y41" class="n y"><rect x="522" y="108.5" width="25" height="4"/><text x="534.5" y="111.35" textLength="23">Marco de referencia</text></g>
<g id="y42" class="n y"><rect x="563" y="108.5" width="20" height="4"/><text x="573" y="111.35" textLength="18">Antecedentes</text></g>
<g id="y43" class="n y"><rect x="564" y="68" width="18" height="4"/><text x="573" y="70.85" textLength="16">Revisión literaria</text></g>
<g id="y44" class="n y"><rect x="559" y="80" width="26" height="4"/><text x="572" y="82.85" textLength="24">Fuentes primarias y secundarias</text></g>
<g id="y45" class="n y"><rect x="563" y="93.5" width="19" height="4"/><text x="572.5" y="96.35" textLength="17">Información</text></g>
<g id="y46" class="n y"><rect x="522" y="118.5" width="51" height="4"/><text x="547.5" y="121.35" textLength="49">Perspectiva teórica: marco teórico y revisión de la literatura</text></g>
<g id="y47" class="n y"><rect x="584" y="118.5" width="9" height="4"/><text x="588.5" y="121.35" textLength="7">Teoría</text></g>
<g id="y48" class="n y"><rect x="613" y="118.5" width="22" height="4"/><text x="624" y="121.35" textLength="20">Funciones del marco teórico</text></g>
<g id="y49" class="n y"><rect x="612" y="103" width="23" height="4"/><text x="623.5" y="105.85" textLength="21">Prevenir errores</text></g>
<g id="y50" class="n y"><rect x="643" y="119" width="10" height="4"/><text x="648" y="121.85" textLength="8">Orienta</text></g>
<g id="y51" class="n y"><rect x="552" y="125" width="28" height="4"/><text x="566" y="127.85" textLength="26">Revisión de la literatura</text></g>
<g id="y52" class="n y"><rect x="596" y="125" width="16" height="4"/><text x="604" y="127.85" textLength="14">Consultar</text></g>
<g id="y53" class="n y"><rect x="624" y="125" width="13" height="4"/><text x="630.5" y="127.85" textLength="11">Detectar</text></g>
<g id="y54" class="n y"><rect x="552" y="132" width="20" height="4"/><text x="562" y="134.85" textLength="18">Obtención</text></g>
<g id="y55" class="n y"><rect x="580" y="132" width="33" height="4"/><text x="596.5" y="134.85" textLength="31">Extracción y recopilación de información</text></g>
<g id="y56" class="n y"><rect x="637" y="133" width="33" height="4"/><text x="653.5" y="135.85" textLength="31">Construcción del marco teórico</text></g>
<g id="y57" class="n y"><rect x="552" y="139" width="13" height="4"/><text x="558.5" y="141.85" textLength="11">Índices</text></g>
<g id="y58" class="n y"><rect x="573" y="139" width="14" height="4"/><text x="580" y="141.85" textLength="12">Resúmenes</text></g>
<g id="y59" class="n y"><rect x="574" y="144" width="33" height="4"/><text x="590.5" y="146.85" textLength="31">Bases de datos y catálogos de bibliotecas</text></g>
<g id="y60" class="n y"><rect x="615" y="139" width="27" height="4"/><text x="628.5" y="141.85" textLength="25">Adopción de una teoría</text></g>
<g id="y61" class="n y"><rect x="662" y="139" width="20" height="4"/><text x="672" y="141.85" textLength="18">Estructura</text></g>
<g id="y62" class="n y"><rect x="693" y="139" width="66" height="4"/><text x="726" y="141.85" textLength="64">El marco teórico puede construirse a partir de una teoría o de varias teorías</text></g>
<g id="y63" class="n y"><rect x="463" y="152" width="47" height="4"/><text x="486.5" y="154.85" textLength="45">Formular hipótesis y definir las variables del estudio</text></g>
<g id="y64" class="n y"><rect x="468" y="164" width="36" height="4"/><text x="486" y="166.85" textLength="34">Definición de las variables</text></g>
<g id="y65" class="n y"><rect x="454" y="170" width="21" height="6"/><text x="464.5" y="172.6" textLength="19">Operacionalización</text><text x="464.5" y="175.4">de variables</text></g>
<g id="y66" class="n y"><rect x="505" y="177" width="15" height="4"/><text x="512.5" y="179.85" textLength="13">Conceptual</text></g>
<g id="y67" class="n y"><rect x="463" y="185.5" width="10" height="4"/><text x="468" y="188.35" textLength="8">Medición</text></g>
<g id="y68" class="n y"><rect x="457" y="194" width="21" height="4"/><text x="467.5" y="196.85" textLength="19">Nivel de medición</text></g>
<g id="y69" class="n y"><rect x="453" y="204" width="30" height="4"/><text x="468" y="206.85" textLength="28">Escalas nominal, ordinal, de intervalo</text></g>
<g id="y70" class="n y"><rect x="457" y="217" width="20" height="4"/><text x="467" y="219.85" textLength="18">Instrumentos</text></g>
<g id="y71" class="n y"><rect x="499" y="217" width="29" height="4"/><text x="513.5" y="219.85" textLength="27">Recolección de datos cuantitativos</text></g>
<g id="y72" class="n y"><rect x="508" y="204" width="12" height="4"/><text x="514" y="206.85" textLength="10">Validez</text></g>
<g id="y73" class="n y"><rect x="538" y="198" width="12" height="4"/><text x="544" y="200.85" textLength="10">Confiabilidad</text></g>
<g id="y74" class="n y"><rect x="532" y="159" width="21" height="4"/><text x="542.5" y="161.85" textLength="19">Alcance de la investigación</text></g>
<g id="y75" class="n y"><rect x="532" y="164" width="11" height="4"/><text x="537.5" y="166.85" textLength="9">Exploratorio</text></g>
<g id="y76" class="n y"><rect x="527" y="179" width="21" height="4"/><text x="537.5" y="181.85" textLength="19">Correlacional</text></g>
<g id="y77" class="n y"><rect x="526" y="190" width="32" height="4"/><text x="542" y="192.85" textLength="30">Explicativo o causal del fenómeno</text></g>
<g id="y78" class="n y"><rect x="565" y="163" width="30" height="4"/><text x="580" y="165.85" textLength="28">Se investigan problemas poco estudiados</text></g>
<g id="y79" class="n y"><rect x="565" y="170" width="32" height="4"/><text x="581" y="172.85" textLength="30">Describe tendencias de un grupo</text></g>
<g id="y80" class="n y"><rect x="554" y="179" width="11" height="4"/><text x="559.5" y="181.85" textLength="9">Mide</text></g>
<g id="y81" class="n y"><rect x="572" y="176.5" width="10" height="4"/><text x="577" y="179.35" textLength="8">Variables</text></g>
<g id="y82" class="n y"><rect x="572" y="181.5" width="10" height="4"/><text x="577" y="184.35" textLength="8">Conceptos</text></g>
<g id="y83" class="n y"><rect x="599" y="179" width="38" height="4"/><text x="618" y="181.85" textLength="36">Asocia variables mediante un patrón predecible</text></g>
<g id="y84" class="n y"><rect x="647" y="179" width="16" height="4"/><text x="655" y="181.85" textLength="14">Grado de relación</text></g>
<g id="y85" class="n y"><rect x="610" y="163" width="47" height="4"/><text x="633.5" y="165.85" textLength="45">Se busca especificar propiedades importantes</text></g>
<g id="y86" class="n y"><rect x="664" y="163" width="39" height="4"/><text x="683.5" y="165.85" textLength="37">Describe fenómenos, situaciones, contextos</text></g>
<g id="y87" class="n y"><rect x="717" y="163" width="33" height="4"/><text x="733.5" y="165.85" textLength="31">Ofrece la posibilidad de hacer predicciones</text></g>
<g id="y88" class="n y"><rect x="589" y="186" width="21" height="4"/><text x="599.5" y="188.85" textLength="19">Investigación</text></g>
<g id="y89" class="n y"><rect x="589" y="190.5" width="26" height="4"/><text x="602" y="193.35" textLength="24">Causas de los eventos</text></g>
<g id="y90" class="n y"><rect x="589" y="195" width="24" height="4"/><text x="601" y="197.85" textLength="22">Responde al por qué</text></g>
<g id="y91" class="n y"><rect x="589" y="199.5" width="34" height="4"/><text x="606" y="202.35" textLength="32">Estructura más rigurosa que otros</text></g>
<g id="y92" class="n y"><rect x="646" y="191" width="54" height="4"/><text x="673" y="193.85" textLength="52">Pretende establecer las causas de los sucesos o fenómenos</text></g>
<g id="y93" class="n y"><rect x="550" y="207.5" width="35" height="4"/><text x="567.5" y="210.35" textLength="33">Proceso de recolección de datos</text></g>
<g id="y94" class="n y"><rect x="550" y="213" width="22" height="4"/><text x="561" y="215.85" textLength="20">Tipos de datos</text></g>
<g id="y95" class="n y"><rect x="600" y="207.5" width="38" height="4"/><text x="619" y="210.35" textLength="36">Fuentes de información y métodos de obtención</text></g>
<g id="y96" class="n y"><rect x="650" y="207.5" width="12" height="4"/><text x="656" y="210.35" textLength="10">Técnicas</text></g>
<g id="y97" class="n y"><rect x="667" y="204" width="10" height="4"/><text x="672" y="206.85" textLength="8">Primarias</text></g>
<g id="y98" class="n y"><rect x="667" y="210" width="10" height="4"/><text x="672" y="212.85" textLength="8">Secundarias</text></g>
<g id="y99" class="n y"><rect x="692" y="208.5" width="8" height="4"/><text x="696" y="211.35" textLength="6">Datos</text></g>
<g id="y100" class="n y"><rect x="714" y="207.5" width="23" height="4"/><text x="725.5" y="210.35" textLength="21">Fuentes disponibles</text></g>
<g id="y101" class="n y"><rect x="550" y="218.5" width="12" height="4"/><text x="556" y="221.35" textLength="10">Codificación</text></g>
<g id="y102" class="n y"><rect x="568" y="218.5" width="15" height="4"/><text x="575.5" y="221.35" textLength="13">Categorías</text></g>
<g id="y103" class="n y"><rect x="590" y="218.5" width="57" height="4"/><text x="618.5" y="221.35" textLength="55">Asignar valores numéricos a las categorías de las variables</text></g>
<g id="y104" class="n y"><rect x="550" y="228.5" width="33" height="4"/><text x="566.5" y="231.35" textLength="31">Aplicación del instrumento</text></g>
<g id="y105" class="n y"><rect x="592" y="224.5" width="26" height="4"/><text x="605" y="227.35" textLength="24">Resultados previos</text></g>
<g id="y106" class="n y"><rect x="592" y="232" width="48" height="4"/><text x="616" y="234.85" textLength="46">Preparación de los datos para su análisis</text></g>
<g id="y107" class="n y"><rect x="550" y="240" width="10" height="4"/><text x="555" y="242.85" textLength="8">Prueba</text></g>
<g id="y108" class="n y"><rect x="567" y="240" width="8" height="4"/><text x="571" y="242.85" textLength="6">Piloto</text></g>
<g id="y109" class="n y"><rect x="584" y="240" width="26" height="4"/><text x="597" y="242.85" textLength="24">Ajustes al instrumento</text></g>
<g id="y110" class="n y"><rect x="625" y="237" width="27" height="4"/><text x="638.5" y="239.85" textLength="25">Cuestionarios y escalas</text></g>
<g id="y111" class="n y"><rect x="625" y="242" width="13" height="4"/><text x="631.5" y="244.85" textLength="11">Observación</text></g>
<g id="y112" class="n y"><rect x="625" y="247" width="27" height="4"/><text x="638.5" y="249.85" textLength="25">Análisis de contenido</text></g>
<g id="y113" class="n y"><rect x="665" y="247" width="32" height="4"/><text x="681" y="249.85" textLength="30">Pruebas estandarizadas</text></g>
<g id="y114" class="n y"><rect x="550" y="248.5" width="23" height="4"/><text x="561.5" y="251.35" textLength="21">Tipos de medición</text></g>
<g id="y115" class="n y"><rect x="550" y="255" width="12" height="4"/><text x="556" y="257.85" textLength="10">Escalas</text></g>
<g id="y116" class="n y"><rect x="580" y="255" width="16" height="4"/><text x="588" y="257.85" textLength="14">Actitudes</text></g>
<g id="y117" class="n y"><rect x="550" y="263" width="28" height="4"/><text x="564" y="265.85" textLength="26">Escala Likert de actitudes</text></g>
<g id="y118" class="n y"><rect x="603" y="263" width="14" height="4"/><text x="610" y="265.85" textLength="12">Afirmaciones</text></g>
<g id="y119" class="n y"><rect x="628" y="259" width="14" height="4"/><text x="635" y="261.85" textLength="12">Positivas</text></g>
<g id="y120" class="n y"><rect x="628" y="266" width="14" height="4"/><text x="635" y="268.85" textLength="12">Negativas</text></g>
<g id="y121" class="n y"><rect x="648" y="263" width="10" height="4"/><text x="653" y="265.85" textLength="8">Puntos</text></g>
<g id="y122" class="n y"><rect x="668" y="263" width="27" height="4"/><text x="681.5" y="265.85" textLength="25">Puntuación total sumada</text></g>
<g id="y123" class="n y"><rect x="550" y="274" width="12" height="4"/><text x="556" y="276.85" textLength="10">Diferencial</text></g>
<g id="y124" class="n y"><rect x="575" y="274" width="12" height="4"/><text x="581" y="276.85" textLength="10">Semántico</text></g>
<g id="y125" class="n y"><rect x="595" y="270" width="15" height="4"/><text x="602.5" y="272.85" textLength="13">Adjetivos</text></g>
<g id="y126" class="n y"><rect x="595" y="277" width="15" height="4"/><text x="602.5" y="279.85" textLength="13">Bipolares</text></g>
<g id="y127" class="n y"><rect x="568" y="282" width="25" height="4"/><text x="580.5" y="284.85" textLength="23">Categorías de respuesta</text></g>
<g id="y128" class="n y"><rect x="608" y="282" width="35" height="4"/><text x="625.5" y="284.85" textLength="33">Escalamiento de Guttman y otras escalas</text></g>
<g id="y129" class="n y"><rect x="623" y="276" width="17" height="4"/><text x="631.5" y="278.85" textLength="15">Calificación</text></g>
<g id="y130" class="n y"><rect x="653" y="283" width="20" height="4"/><text x="663" y="285.85" textLength="18">Ítems del instrumento</text></g>
<g id="y131" class="n y"><rect x="695" y="272" width="12" height="4"/><text x="701" y="274.85" textLength="10">Alta</text></g>
<g id="y132" class="n y"><rect x="695" y="277" width="12" height="4"/><text x="701" y="279.85" textLength="10">Media</text></g>
<g id="y133" class="n y"><rect x="695" y="282" width="12" height="4"/><text x="701" y="284.85" textLength="10">Baja</text></g>
<g id="y134" class="n y"><rect x="552" y="291" width="11" height="4"/><text x="557.5" y="293.85" textLength="9">Archivos</text></g>
<g id="y135" class="n y"><rect x="588" y="291" width="54" height="4"/><text x="615" y="293.85" textLength="52">Registros, documentos y materiales disponibles</text></g>
<g id="y136" class="n y"><rect x="663" y="291" width="5" height="4"/><text x="665.5" y="293.85">3</text></g>
<g id="y137" class="n y"><rect x="550" y="300" width="42" height="4"/><text x="571" y="302.85" textLength="40">Los instrumentos de medición deben ser confiables</text></g>
<g id="y138" class="n y"><rect x="600" y="299" width="27" height="4"/><text x="613.5" y="301.85" textLength="25">Confiabilidad y validez</text></g>
<g id="y139" class="n y"><rect x="639" y="294.5" width="48" height="4"/><text x="663" y="297.35" textLength="46">Validez de contenido, de criterio y de constructo</text></g>
<g id="y140" class="n y"><rect x="639" y="300" width="48" height="4"/><text x="663" y="302.85" textLength="46">Consistencia interna del instrumento</text></g>
<g id="y141" class="n y"><rect x="639" y="305.5" width="48" height="4"/><text x="663" y="308.35" textLength="46">Objetividad de la medición</text></g>
<g id="g1" class="n g"><rect x="518" y="323" width="10" height="4"/><text x="523" y="325.85" textLength="8">Técnicas</text></g>
<g id="g2" class="n g"><rect x="530" y="314.5" width="30" height="4"/><text x="545" y="317.35" textLength="28">Encuestas de opinión pública</text></g>
<g id="g3" class="n g"><rect x="575" y="314.5" width="28" height="4"/><text x="589" y="317.35" textLength="26">Se aplica a grupos grandes</text></g>
<g id="g4" class="n g"><rect x="610" y="314.5" width="23" height="4"/><text x="621.5" y="317.35" textLength="21">Tipos de cuestionario</text></g>
<g id="g5" class="n g"><rect x="649" y="314.5" width="17" height="4"/><text x="657.5" y="317.35" textLength="15">Autoadministrado</text></g>
<g id="g6" class="n g"><rect x="677" y="314.5" width="10" height="4"/><text x="682" y="317.35" textLength="8">Entrevista</text></g>
<g id="g7" class="n g"><rect x="558" y="322" width="45" height="4"/><text x="580.5" y="324.85" textLength="43">Preguntas cerradas y preguntas abiertas</text></g>
<g id="g8" class="n g"><rect x="530" y="328.5" width="28" height="4"/><text x="544" y="331.35" textLength="26">Análisis de contenido</text></g>
<g id="g9" class="n g"><rect x="573" y="328.5" width="55" height="4"/><text x="600.5" y="331.35" textLength="53">Técnica para estudiar cualquier tipo de comunicación</text></g>
<g id="g10" class="n g"><rect x="558" y="337" width="64" height="4"/><text x="590" y="339.85" textLength="62">Observación cuantitativa: registro sistemático válido y confiable</text></g>
<g id="g11" class="n g"><rect x="513" y="347" width="17" height="8"/><text x="521.5" y="350.4" textLength="15">Recolección de</text><text x="521.5" y="353.4" textLength="15">datos cualitativos</text></g>
<g id="g12" class="n g"><rect x="540" y="343" width="18" height="4"/><text x="549" y="345.85" textLength="16">Ambiente</text></g>
<g id="g13" class="n g"><rect x="571" y="343" width="17" height="4"/><text x="579.5" y="345.85" textLength="15">Observación</text></g>
<g id="g14" class="n g"><rect x="598" y="343" width="9" height="4"/><text x="602.5" y="345.85" textLength="7">Notas</text></g>
<g id="g15" class="n g"><rect x="627" y="343" width="24" height="4"/><text x="639" y="345.85" textLength="22">Anotaciones de campo</text></g>
<g id="g16" class="n g"><rect x="540" y="349.5" width="27" height="4"/><text x="553.5" y="352.35" textLength="25">Papel del investigador</text></g>
<g id="g17" class="n g"><rect x="579" y="349.5" width="24" height="4"/><text x="591" y="352.35" textLength="22">Inmersión inicial</text></g>
<g id="g18" class="n g"><rect x="610" y="349.5" width="15" height="4"/><text x="617.5" y="352.35" textLength="13">Entrevistas</text></g>
<g id="g19" class="n g"><rect x="636" y="349.5" width="17" height="4"/><text x="644.5" y="352.35" textLength="15">Grupos focales</text></g>
<g id="g20" class="n g"><rect x="665" y="349.5" width="26" height="4"/><text x="678" y="352.35" textLength="24">Sesiones en profundidad</text></g>
<g id="g21" class="n g"><rect x="540" y="356" width="40" height="4"/><text x="560" y="358.85" textLength="38">Documentos, registros y artefactos</text></g>
<g id="g22" class="n g"><rect x="592" y="356" width="10" height="4"/><text x="597" y="358.85" textLength="8">Biografías</text></g>
<g id="g23" class="n g"><rect x="612" y="356" width="10" height="4"/><text x="617" y="358.85" textLength="8">Historias</text></g>
<g id="g24" class="n g"><rect x="629" y="356" width="19" height="4"/><text x="638.5" y="358.85" textLength="17">Historias de vida</text></g>
<g id="g25" class="n g"><rect x="665" y="356" width="53" height="4"/><text x="691.5" y="358.85" textLength="51">Bitácora de análisis: registro de lo que se observa</text></g>
<g id="g26" class="n g"><rect x="540" y="364" width="42" height="4"/><text x="561" y="366.85" textLength="40">Recolección y análisis de datos simultáneos</text></g>
<g id="g27" class="n g"><rect x="513" y="371" width="18" height="4"/><text x="522" y="373.85" textLength="16">Análisis cualitativo</text></g>
<g id="g28" class="n g"><rect x="551" y="371" width="42" height="4"/><text x="572" y="373.85" textLength="40">Revisión del material y organización</text></g>
<g id="g29" class="n g"><rect x="610" y="371" width="40" height="4"/><text x="630" y="373.85" textLength="38">Codificación en primer y segundo nivel</text></g>
<g id="g30" class="n g"><rect x="671" y="368.5" width="28" height="4"/><text x="685" y="371.35" textLength="26">Generar teorías e hipótesis</text></g>
<g id="g31" class="n g"><rect x="671" y="374" width="49" height="4"/><text x="695.5" y="376.85" textLength="47">Interpretar los resultados y establecer categorías</text></g>
<g id="g32" class="n g"><rect x="705" y="379" width="15" height="4"/><text x="712.5" y="381.85" textLength="13">Patrones</text></g>
<g id="g33" class="n g"><rect x="705" y="384" width="35" height="4"/><text x="722.5" y="386.85" textLength="33">Vincular categorías y temas</text></g>
<g id="g34" class="n g"><rect x="513" y="388" width="16" height="4"/><text x="521" y="390.85" textLength="14">Categorías</text></g>
<g id="g35" class="n g"><rect x="540" y="386" width="47" height="7"/><text x="563.5" y="389.1" textLength="45">Las unidades de análisis se categorizan</text><text x="563.5" y="392" textLength="45">de acuerdo a su significado</text></g>
<g id="g36" class="n g"><rect x="592" y="388" width="22" height="4"/><text x="603" y="390.85" textLength="20">Proceso de análisis</text></g>
<g id="g37" class="n g"><rect x="624" y="380" width="20" height="4"/><text x="634" y="382.85" textLength="18">Unidades de significado</text></g>
<g id="g38" class="n g"><rect x="624" y="386" width="47" height="4"/><text x="647.5" y="388.85" textLength="45">Descripción de categorías y relaciones entre ellas</text></g>
<g id="g39" class="n g"><rect x="624" y="391.5" width="79" height="4"/><text x="663.5" y="394.35" textLength="77">Comparación constante entre unidades, categorías y temas emergentes del análisis</text></g>
<g id="g40" class="n g"><rect x="624" y="397" width="58" height="4"/><text x="653" y="399.85" textLength="56">Las categorías y temas se agrupan en estructuras mayores</text></g>
<g id="g41" class="n g"><rect x="624" y="403" width="13" height="4"/><text x="630.5" y="405.85" textLength="11">Temas</text></g>
<g id="g42" class="n g"><rect x="643" y="403" width="10" height="4"/><text x="648" y="405.85" textLength="8">Códigos</text></g>
<g id="g43" class="n g"><rect x="658" y="403" width="17" height="4"/><text x="666.5" y="405.85" textLength="15">Memorándums</text></g>
<g id="g44" class="n g"><rect x="683" y="403" width="30" height="4"/><text x="698" y="405.85" textLength="28">Reglas de codificación</text></g>
<g id="g45" class="n g"><rect x="624" y="408.5" width="33" height="4"/><text x="640.5" y="411.35" textLength="31">Codificación axial y selectiva</text></g>
<g id="g46" class="n g"><rect x="525" y="400.5" width="10" height="4"/><text x="530" y="403.35" textLength="8">Rigor</text></g>
<g id="g47" class="n g"><rect x="542" y="400.5" width="46" height="4"/><text x="565" y="403.35" textLength="44">Dependencia, credibilidad, transferencia</text></g>
<g id="g48" class="n g"><rect x="555" y="412" width="20" height="4"/><text x="565" y="414.85" textLength="18">Confirmación</text></g>
<g id="g49" class="n g"><rect x="545" y="423" width="42" height="4"/><text x="566" y="425.85" textLength="40">Auditoría externa del proceso de análisis</text></g>
<g id="g50" class="n g"><rect x="545" y="434" width="40" height="4"/><text x="565" y="436.85" textLength="38">Triangulación de datos y métodos</text></g>
<g id="g51" class="n g"><rect x="517" y="453" width="14" height="4"/><text x="524" y="455.85" textLength="12">Reporte</text></g>
<g id="g52" class="n g"><rect x="539" y="453" width="19" height="4"/><text x="548.5" y="455.85" textLength="17">Reporte de resultados</text></g>
<g id="g53" class="n g"><rect x="568" y="443.5" width="30" height="4"/><text x="583" y="446.35" textLength="28">Usuarios del reporte</text></g>
<g id="g54" class="n g"><rect x="568" y="449" width="80" height="4"/><text x="608" y="451.85" textLength="78">Contexto académico: tesis, artículos, ponencias, libros</text></g>
<g id="g55" class="n g"><rect x="568" y="454.5" width="90" height="4"/><text x="613" y="457.35" textLength="88">Contexto no académico: reportes técnicos, presentaciones para ejecutivos y público</text></g>
<g id="g56" class="n g"><rect x="568" y="460" width="50" height="4"/><text x="593" y="462.85" textLength="48">Descripción del problema y de la metodología</text></g>
<g id="g57" class="n g"><rect x="568" y="465.5" width="87" height="4"/><text x="611.5" y="468.35" textLength="85">Los resultados se presentan de forma ordenada y clara mediante tablas y figuras</text></g>
<g id="g58" class="n g"><rect x="568" y="471" width="54" height="4"/><text x="595" y="473.85" textLength="52">Conclusiones, recomendaciones e implicaciones</text></g>
<g id="g59" class="n g"><rect x="624" y="471" width="99" height="4"/><text x="673.5" y="473.85" textLength="97">Referencias bibliográficas y apéndices con los materiales utilizados en el estudio</text></g>
<g id="g60" class="n g"><rect x="533" y="483" width="25" height="4"/><text x="545.5" y="485.85" textLength="23">Tipos de reporte</text></g>
<g id="g61" class="n g"><rect x="566" y="479.5" width="29" height="4"/><text x="580.5" y="482.35" textLength="27">Reporte de investigación</text></g>
<g id="g62" class="n g"><rect x="566" y="486.5" width="39" height="4"/><text x="585.5" y="489.35" textLength="37">Artículos para revistas científicas</text></g>
<g id="g63" class="n g"><rect x="615" y="486.5" width="27" height="4"/><text x="628.5" y="489.35" textLength="25">Ponencias o presentaciones</text></g>
<g id="g64" class="n g"><rect x="652" y="479.5" width="30" height="4"/><text x="667" y="482.35" textLength="28">Formato de estilo</text></g>
<g id="g65" class="n g"><rect x="652" y="486.5" width="43" height="4"/><text x="673.5" y="489.35" textLength="41">Normas y estilos de publicación</text></g>
<g id="g66" class="n g"><rect x="533" y="498" width="13" height="4"/><text x="539.5" y="500.85" textLength="11">Elementos</text></g>
<g id="g67" class="n g"><rect x="557" y="498" width="61" height="4"/><text x="587.5" y="500.85" textLength="59">Portada, índice, resumen, cuerpo del documento y anexos</text></g>
<g id="g68" class="n g"><rect x="643" y="493" width="30" height="4"/><text x="658" y="495.85" textLength="28">Resumen del trabajo</text></g>
<g id="g69" class="n g"><rect x="643" y="498.5" width="27" height="4"/><text x="656.5" y="501.35" textLength="25">Palabras clave</text></g>
<g id="g70" class="n g"><rect x="643" y="504" width="28" height="4"/><text x="657" y="506.85" textLength="26">Introducción</text></g>
<g id="g71" class="n g"><rect x="563" y="507" width="50" height="4"/><text x="588" y="509.85" textLength="48">Marco teórico, método y resultados</text></g>
<g id="g72" class="n g"><rect x="565" y="514.5" width="48" height="4"/><text x="589" y="517.35" textLength="46">Discusión, conclusiones y referencias</text></g>
<g id="r1" class="n r"><rect x="497" y="528" width="31" height="4"/><text x="512.5" y="530.85" textLength="29">Análisis cuantitativo de datos</text></g>
<g id="r2" class="n r"><rect x="540" y="528" width="24" height="4"/><text x="552" y="530.85" textLength="22">Estadística descriptiva</text></g>
<g id="r3" class="n r"><rect x="573" y="528" width="32" height="4"/><text x="589" y="530.85" textLength="30">Distribución de frecuencias</text></g>
<g id="r4" class="n r"><rect x="614" y="528" width="64" height="4"/><text x="646" y="530.85" textLength="62">Medidas de tendencia central: media, mediana y moda</text></g>
<g id="r5" class="n r"><rect x="698" y="528" width="42" height="4"/><text x="719" y="530.85" textLength="40">Medidas de variabilidad de los datos</text></g>
<g id="r6" class="n r"><rect x="613" y="535.5" width="49" height="4"/><text x="637.5" y="538.35" textLength="47">Desviación estándar, varianza y rango</text></g>
<g id="r7" class="n r"><rect x="680" y="535.5" width="43" height="4"/><text x="701.5" y="538.35" textLength="41">Puntuaciones z y curva normal</text></g>
<g id="r8" class="n r"><rect x="553" y="543" width="14" height="4"/><text x="560" y="545.85" textLength="12">Gráficas</text></g>
<g id="r9" class="n r"><rect x="573" y="543" width="12" height="4"/><text x="579" y="545.85" textLength="10">Polígonos</text></g>
<g id="r10" class="n r"><rect x="596" y="541.5" width="46" height="4"/><text x="619" y="544.35" textLength="44">Histogramas y gráficas de barras</text></g>
<g id="r11" class="n r"><rect x="596" y="547" width="74" height="4"/><text x="633" y="549.85" textLength="72">Las estadísticas descriptivas se presentan en tablas y gráficas</text></g>
<g id="r12" class="n r"><rect x="499" y="559.5" width="24" height="4"/><text x="511" y="562.35" textLength="22">Estadística inferencial</text></g>
<g id="r13" class="n r"><rect x="535" y="559.5" width="57" height="4"/><text x="563.5" y="562.35" textLength="55">Se utiliza para probar hipótesis y estimar parámetros</text></g>
<g id="r14" class="n r"><rect x="535" y="565" width="50" height="4"/><text x="560" y="567.85" textLength="48">Prueba de hipótesis: nivel de significancia</text></g>
<g id="r15" class="n r"><rect x="599" y="565" width="43" height="4"/><text x="620.5" y="567.85" textLength="41">Análisis paramétricos y no paramétricos</text></g>
<g id="r16" class="n r"><rect x="653" y="565" width="42" height="4"/><text x="674" y="567.85" textLength="40">Correlación y regresión lineal</text></g>
<g id="r17" class="n r"><rect x="535" y="577" width="82" height="4"/><text x="576" y="579.85" textLength="80">Prueba t, análisis de varianza, chi cuadrada y coeficientes de correlación</text></g>
<g id="r18" class="n r"><rect x="519" y="584" width="115" height="4"/><text x="576.5" y="586.85" textLength="113">Los análisis se eligen de acuerdo con el nivel de medición de las variables y el tipo de hipótesis planteada</text></g>
<g id="r19" class="n r"><rect x="497" y="597" width="36" height="4"/><text x="515" y="599.85" textLength="34">Análisis cualitativo de los datos</text></g>
<g id="r20" class="n r"><rect x="535" y="593" width="29" height="4"/><text x="549.5" y="595.85" textLength="27">Estructurar los datos</text></g>
<g id="r21" class="n r"><rect x="577" y="593" width="56" height="4"/><text x="605" y="595.85" textLength="54">Organizar las unidades, categorías, temas y patrones</text></g>
<g id="r22" class="n r"><rect x="653" y="591" width="63" height="7"/><text x="684.5" y="594.1" textLength="61">Describir las experiencias de los participantes</text><text x="684.5" y="597" textLength="61">según su óptica, lenguaje y expresiones</text></g>
<g id="r23" class="n r"><rect x="535" y="599.5" width="78" height="4"/><text x="574" y="602.35" textLength="76">Comprender en profundidad el contexto que rodea a los datos</text></g>
<g id="r24" class="n r"><rect x="540" y="608" width="68" height="4"/><text x="574" y="610.85" textLength="66">Reconstruir historias y relacionar los resultados</text></g>
<g id="r25" class="n r"><rect x="532" y="617" width="15" height="4"/><text x="539.5" y="619.85" textLength="13">Software</text></g>
<g id="r26" class="n r"><rect x="550" y="615" width="48" height="8"/><text x="574" y="618.4" textLength="46">Programas de análisis de</text><text x="574" y="621.4" textLength="46">datos cualitativos: Atlas.ti</text></g>
<g id="r27" class="n r"><rect x="609" y="617" width="46" height="4"/><text x="632" y="619.85" textLength="44">Programas estadísticos: SPSS y Minitab</text></g>
<g id="r28" class="n r"><rect x="665" y="614" width="60" height="4"/><text x="695" y="616.85" textLength="58">Permiten organizar, codificar y recuperar los datos</text></g>
<g id="r29" class="n r"><rect x="665" y="622" width="65" height="4"/><text x="697.5" y="624.85" textLength="63">Facilitan el análisis de grandes volúmenes de información</text></g>
<g id="r30" class="n r"><rect x="533" y="627" width="79" height="4"/><text x="572.5" y="629.85" textLength="77">Interpretación de resultados y elaboración de conclusiones</text></g>
<g id="r31" class="n r"><rect x="533" y="633" width="51" height="4"/><text x="558.5" y="635.85" textLength="49">Redacción del reporte final</text></g>
</svg>
